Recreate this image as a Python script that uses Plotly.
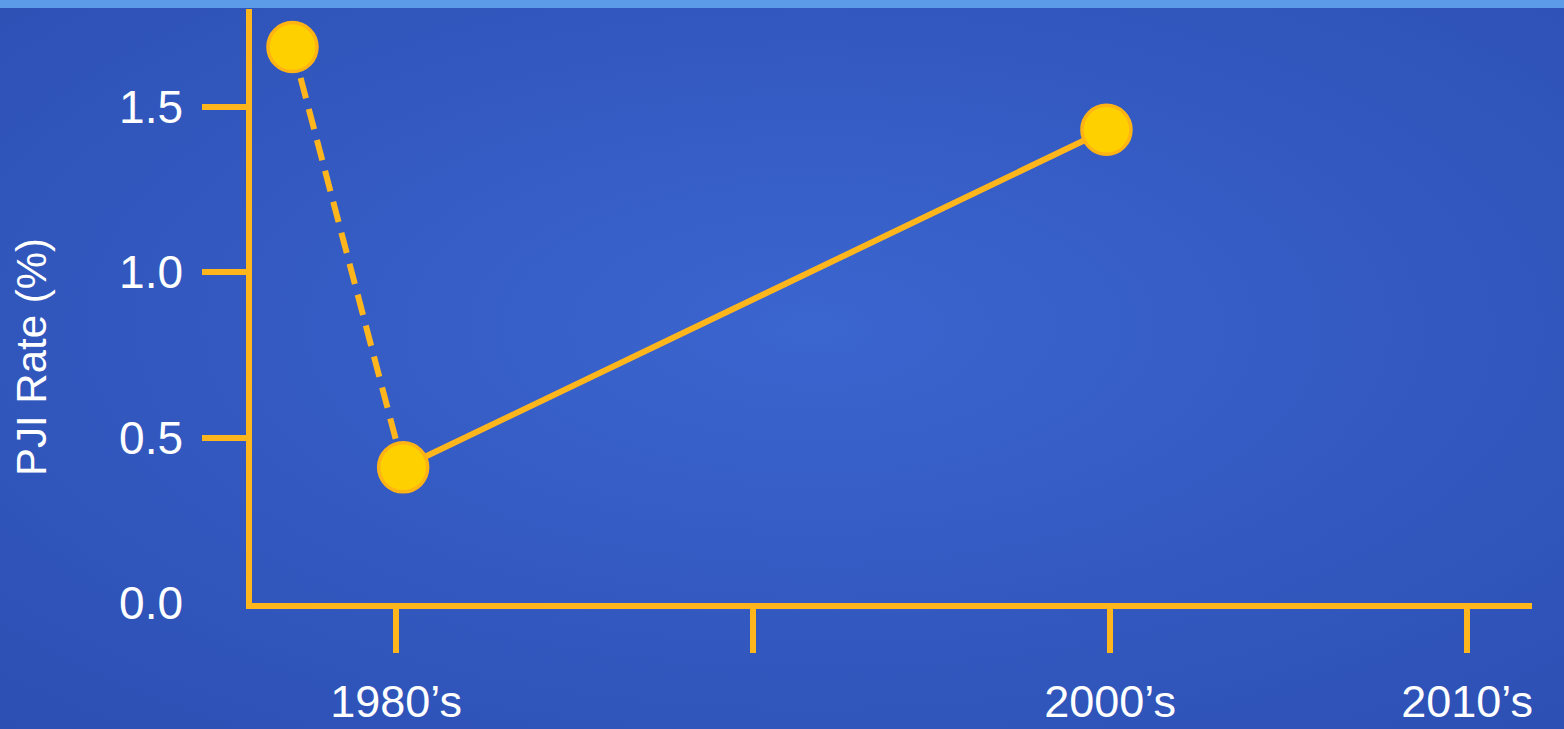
import base64
import plotly.graph_objects as go

# ---- data ----
decades = [1977.1, 1980.2, 1999.9]          # x positions (decade scale)
pji_rate = [1.68, 0.41, 1.43]               # PJI rate (%)
xtick_vals = [1980, 1990, 2000, 2010]
xtick_text = ["1980\u2019s", "", "2000\u2019s", "2010\u2019s"]
ytick_vals = [0.5, 1.0, 1.5]
ylabel_vals = [0.0, 0.5, 1.0, 1.5]
ylabel_text = ["0.0", "0.5", "1.0", "1.5"]
y_title = "PJI Rate (%)"

W, H = 1564, 729
ML, MR, MT, MB = 252, 32, 9, 126
PW, PH = W - ML - MR, H - MT - MB
ORANGE = "#FFB61C"
FONT = "Arial, Liberation Sans, sans-serif"

# background: radial gradient + top light bar
svg = f'''<svg xmlns="http://www.w3.org/2000/svg" width="{W}" height="{H}" viewBox="0 0 {W} {H}" preserveAspectRatio="none">
<defs><radialGradient id="g" cx="0.52" cy="0.45" r="0.75">
<stop offset="0" stop-color="#3B65CF"/><stop offset="1" stop-color="#2C4FB3"/></radialGradient></defs>
<rect width="{W}" height="{H}" fill="url(#g)"/>
<rect width="{W}" height="8" fill="#5B9BE7"/>
</svg>'''
bg_uri = "data:image/svg+xml;base64," + base64.b64encode(svg.encode()).decode()

fig = go.Figure()

# dashed segment (first two points)
fig.add_trace(go.Scatter(x=decades[:2], y=pji_rate[:2], mode="lines",
                         line=dict(color=ORANGE, width=6, dash="21px,11px"),
                         hoverinfo="skip", showlegend=False))
# solid segment (last two points)
fig.add_trace(go.Scatter(x=decades[1:], y=pji_rate[1:], mode="lines",
                         line=dict(color=ORANGE, width=6),
                         hoverinfo="skip", showlegend=False))
# markers
fig.add_trace(go.Scatter(x=decades, y=pji_rate, mode="markers",
                         marker=dict(size=49, color="#FFD000",
                                     line=dict(color="#FFB414", width=3.5)),
                         showlegend=False))
# invisible trace on y2 for labels
fig.add_trace(go.Scatter(x=decades, y=pji_rate, yaxis="y2", mode="markers",
                         marker=dict(opacity=0), hoverinfo="skip", showlegend=False))

yrange = [0, 1.795]
fig.update_layout(
    width=W, height=H,
    margin=dict(l=ML, r=MR, t=MT, b=MB, autoexpand=False),
    paper_bgcolor="#3159C2",
    plot_bgcolor="rgba(0,0,0,0)",
    images=[dict(source=bg_uri, xref="paper", yref="paper",
                 x=-ML / PW, y=1 + MT / PH, sizex=W / PW, sizey=H / PH,
                 sizing="stretch", layer="below",
                 xanchor="left", yanchor="top")],
    xaxis=dict(range=[1975.966, 2011.82], showgrid=False, zeroline=False,
               automargin=False,
               showline=True, linecolor=ORANGE, linewidth=6,
               tickmode="array", tickvals=xtick_vals, ticktext=xtick_text,
               ticks="outside", ticklen=44, tickwidth=6, tickcolor=ORANGE,
               tickfont=dict(family=FONT, size=45, color="white"),
               ticklabelstandoff=10),
    yaxis=dict(range=yrange, showgrid=False, zeroline=False, automargin=False,
               showline=True, linecolor=ORANGE, linewidth=6,
               tickmode="array", tickvals=ytick_vals,
               ticks="outside", ticklen=44, tickwidth=6, tickcolor=ORANGE,
               showticklabels=False),
    yaxis2=dict(range=yrange, overlaying="y", side="left", showgrid=False,
                zeroline=False, showline=False, automargin=False,
                tickmode="array", tickvals=ylabel_vals, ticktext=ylabel_text,
                ticks="", tickfont=dict(family=FONT, size=46, color="white"),
                ticklabelstandoff=68),
    annotations=[dict(text=y_title, xref="paper", yref="paper",
                      x=(31 - ML) / PW, y=(H - MB - 357) / PH,
                      xanchor="center", yanchor="middle", textangle=-90,
                      showarrow=False,
                      font=dict(family=FONT, size=42, color="white"))],
)

fig.write_html("out.html")
